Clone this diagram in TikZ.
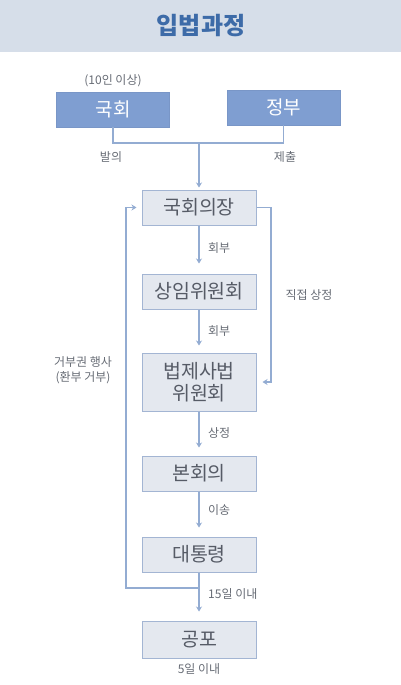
\documentclass[tikz,border=0pt]{standalone}
\usepackage{fontspec}
\setmainfont{Noto Sans CJK KR}
\usetikzlibrary{arrows.meta,positioning}
\definecolor{band}{HTML}{D6DEE9}
\definecolor{titleblue}{HTML}{3D6BA8}
\definecolor{actor}{HTML}{7F9ED1}
\definecolor{stagefill}{HTML}{E4E8EF}
\definecolor{stageline}{HTML}{A3B5D3}
\definecolor{flow}{HTML}{93ACD2}
\definecolor{ink}{HTML}{565B66}
\definecolor{note}{HTML}{676C75}

\begin{document}
\begin{tikzpicture}[
  x=1pt, y=-1pt,
  actorbox/.style={draw=actor!95!black, fill=actor, minimum width=113pt, minimum height=35pt,
                   font=\fontsize{19}{22}\selectfont, text=white, inner sep=0pt},
  stagebox/.style={draw=stageline, line width=1pt, fill=stagefill, minimum width=114pt,
                   minimum height=35pt, font=\fontsize{19.5}{23}\selectfont, text=ink,
                   align=center, inner sep=0pt},
  lbl/.style={font=\fontsize{12}{15}\selectfont, text=note, align=center, inner sep=0pt},
  line/.style={draw=flow, line width=1.1pt},
  arr/.style={line, -{Stealth[length=5pt, width=6pt]}},
]
  \useasboundingbox (0,0) rectangle (401,685);
  \fill[band] (0,0) rectangle (401,52);
  \node[font=\fontsize{24}{28}\selectfont\bfseries, text=titleblue] (title) at (201,26) {입법과정};

  % proposers
  \node[actorbox] (nh) at (113,109.5) {국회};
  \node[actorbox] (gov) at (283.5,107.5) {정부};
  \node[lbl, above=5pt of nh] (ten) {(10인 이상)};

  % main column
  \node[stagebox] (spk) at (199,207.5) {국회의장};
  \node[stagebox, below=48pt of spk] (cmt) {상임위원회};
  \node[stagebox, minimum height=58pt, below=43pt of cmt] (jud) {법제사법\\[-1pt]위원회};
  \node[stagebox, below=44pt of jud] (plen) {본회의};
  \node[stagebox, below=45pt of plen] (pres) {대통령};
  \node[stagebox, minimum height=37pt, below=48pt of pres] (prom) {공포};

  % joining the two proposals
  \coordinate (merge) at (199,143);
  \draw[line] (nh.south) |- (merge) -| (gov.south);
  \draw[arr, shorten >=2pt] (merge) -- (spk.north);
  \node[lbl] (bal) at (111,157) {발의};
  \node[lbl] (sub) at (285,157) {제출};

  \draw[arr, shorten >=10pt] (spk) -- (cmt);
  \draw[arr, shorten >=7pt] (cmt) -- (jud);
  \draw[arr, shorten >=8pt] (jud) -- (plen);
  \draw[arr, shorten >=9pt] (plen) -- (pres);
  \draw[arr, shorten >=9pt] (pres) -- (prom);

  \node[lbl, right=9pt of spk.south, yshift=-23pt] (ref1) {회부};
  \node[lbl, right=9pt of cmt.south, yshift=-22pt] (ref2) {회부};
  \node[lbl, right=9pt of jud.south, yshift=-21pt] (tab) {상정};
  \node[lbl, right=9pt of plen.south, yshift=-19pt] (send) {이송};
  \node[lbl, right=9pt of pres.south, anchor=west, yshift=-22pt] (days15) {15일 이내};
  \node[lbl, below=5pt of prom] (days5) {5일 이내};

  % veto back to the speaker
  \coordinate (veto) at (199,588);
  \draw[arr, shorten >=5pt] (veto) -- (126,588) -- (126,207.5) -- (spk.west);
  \node[lbl] (vetotxt) at (83,370) {거부권 행사\\(환부 거부)};

  % direct tabling
  \draw[arr, shorten >=6pt] (spk.east) -- (271,207.5) -- (271,382) -- (jud.east);
  \node[lbl] (direct) at (309,295) {직접 상정};
\end{tikzpicture}
\end{document}
